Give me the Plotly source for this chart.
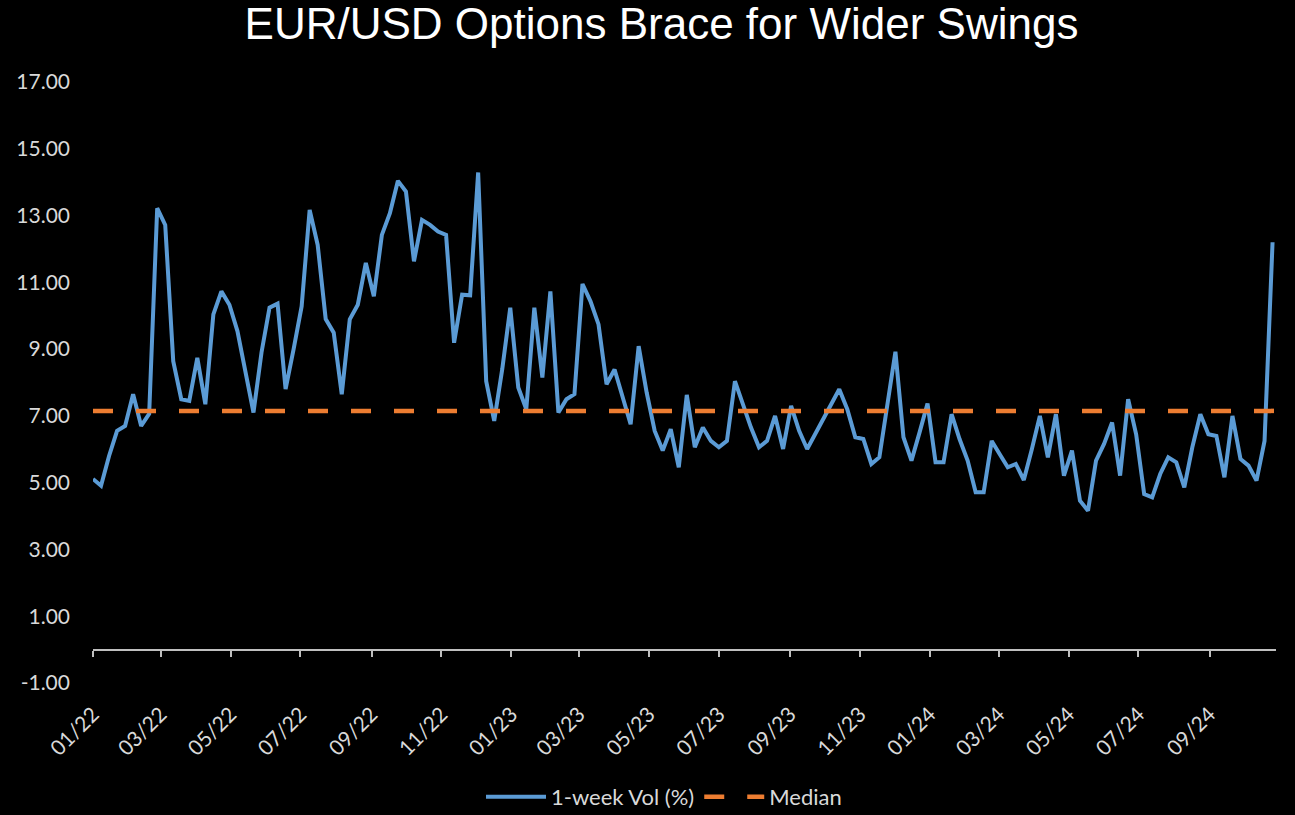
import plotly.graph_objects as go
import pandas as pd

# ---- data ----
start_date = "2022-01-01"          # first weekly observation
axis_end = "2024-10-29"
vol_1w = [
    5.11, 4.91, 5.80, 6.55, 6.70, 7.65, 6.70, 7.06, 13.22, 12.72,
    8.64, 7.50, 7.45, 8.74, 7.35, 10.04, 10.73, 10.33, 9.54, 8.30,
    7.10, 8.90, 10.24, 10.36, 7.80, 9.00, 10.28, 13.17, 12.12, 9.90,
    9.49, 7.65, 9.89, 10.33, 11.58, 10.58, 12.42, 13.07, 14.04, 13.72,
    11.63, 12.87, 12.72, 12.52, 12.42, 9.19, 10.63, 10.61, 14.29, 8.04,
    6.85, 8.40, 10.24, 7.85, 7.20, 10.24, 8.15, 10.73, 7.10, 7.50,
    7.65, 10.95, 10.43, 9.74, 7.95, 8.39, 7.55, 6.75, 9.09, 7.70,
    6.55, 5.96, 6.60, 5.46, 7.63, 6.06, 6.65, 6.25, 6.06, 6.25,
    8.04, 7.35, 6.65, 6.06, 6.25, 7.00, 6.01, 7.30, 6.55, 6.01,
    6.45, 6.88, 7.30, 7.80, 7.20, 6.36, 6.31, 5.56, 5.76, 7.30,
    8.92, 6.36, 5.66, 6.50, 7.37, 5.61, 5.61, 7.05, 6.30, 5.66,
    4.71, 4.71, 6.25, 5.85, 5.46, 5.56, 5.08, 6.00, 7.00, 5.76,
    7.05, 5.21, 5.96, 4.46, 4.16, 5.66, 6.16, 6.80, 5.21, 7.50,
    6.45, 4.66, 4.56, 5.26, 5.76, 5.61, 4.86, 6.06, 7.05, 6.45,
    6.40, 5.16, 7.00, 5.71, 5.51, 5.06, 6.25, 12.20,
]
median_value = 7.15
y_ticks = [-1, 1, 3, 5, 7, 9, 11, 13, 15, 17]
y_tick_labels = ["-1.00", "1.00", "3.00", "5.00", "7.00",
                 "9.00", "11.00", "13.00", "15.00", "17.00"]

dates = pd.date_range(start_date, periods=len(vol_1w), freq="7D")

BLUE = "#5B9BD5"
ORANGE = "#ED7D31"
AXIS = "#BFBFBF"
TXT = "#D9D9D9"

fig = go.Figure()
fig.add_trace(go.Scatter(
    x=dates, y=vol_1w, mode="lines", name="1-week Vol (%)",
    line=dict(color=BLUE, width=4), hoverinfo="x+y",
))
fig.add_trace(go.Scatter(
    x=[dates[0], axis_end], y=[median_value, median_value], mode="lines",
    name="Median", line=dict(color=ORANGE, width=4.5, dash="20px,23px"),
))
# helper trace so the crossing axis at y=0 is rendered
fig.add_trace(go.Scatter(
    x=[dates[0]], y=[0], xaxis="x2", mode="markers", showlegend=False,
    marker=dict(opacity=0), hoverinfo="skip",
))

ymin, ymax = y_ticks[0], y_ticks[-1]

fig.update_layout(
    width=1295, height=815,
    paper_bgcolor="black", plot_bgcolor="black",
    margin=dict(l=93, r=19, t=82, b=132, autoexpand=False),
    title=dict(
        text="EUR/USD Options Brace for Wider Swings",
        font=dict(family="Liberation Sans, Arial", size=44, color="white"),
        x=661.5 / 1295, xanchor="center", xref="container",
        y=1 - 24 / 815, yanchor="middle", yref="container",
    ),
    font=dict(family="Lato, Open Sans, sans-serif", color=TXT),
    xaxis=dict(
        type="date", range=[start_date, axis_end],
        tickformat="%m/%y", dtick="M2", tick0=start_date,
        tickangle=-45, ticks="", showline=False, showgrid=False,
        zeroline=False, tickfont=dict(size=21, color=TXT),
        ticklabelstandoff=14,
    ),
    xaxis2=dict(
        type="date", range=[start_date, axis_end], overlaying="x",
        anchor="free", position=(0 - ymin) / (ymax - ymin), side="bottom",
        dtick="M2", tick0=start_date, ticks="outside", ticklen=6,
        tickwidth=2, tickcolor=AXIS, showline=True, linecolor=AXIS,
        linewidth=2, showticklabels=False, showgrid=False, zeroline=False,
    ),
    yaxis=dict(
        range=[ymin, ymax], tickvals=y_ticks, ticktext=y_tick_labels,
        showgrid=False, zeroline=False, showline=False, ticks="",
        tickfont=dict(size=21, color=TXT), ticklabelstandoff=22,
    ),
    legend=dict(
        orientation="h", x=(664 - 93) / 1183, xanchor="center",
        y=(683 - 797) / 601, yanchor="middle",
        font=dict(size=22, color=TXT), bgcolor="rgba(0,0,0,0)",
        itemwidth=60,
    ),
    showlegend=True,
)

fig.write_html("out.html")
